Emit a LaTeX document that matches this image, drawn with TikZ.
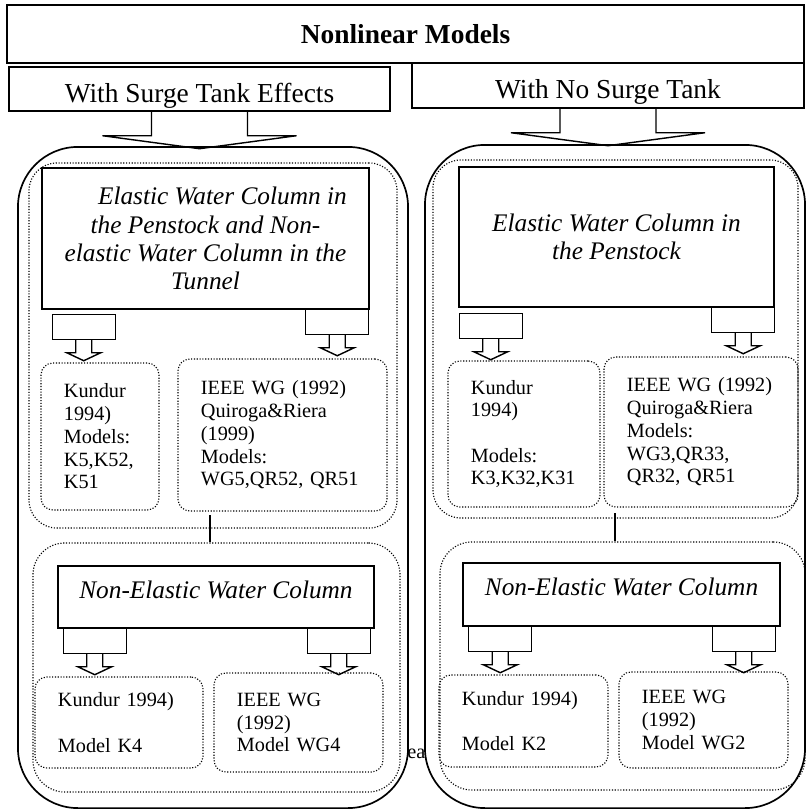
\documentclass[tikz,border=0pt]{standalone}
\usepackage{fontspec}
\setmainfont{Liberation Serif}
\usetikzlibrary{positioning,calc}

\begin{document}
\begin{tikzpicture}[
x=0.025cm, y=-0.025cm,
titlebox/.style={
rectangle,
draw,
line width=1pt,
inner sep=0pt,
minimum width=19.925cm,
minimum height=1.45cm,
font=\fontsize{19.5}{23}\selectfont\bfseries
},
branchbox/.style={
rectangle,
draw,
line width=1pt,
inner sep=0pt,
text height=22pt,
text depth=3.5pt,
font=\fontsize{19.5}{23}\selectfont
},
columnbox/.style={
rectangle,
draw,
line width=1pt,
inner sep=0pt,
align=center,
font=\fontsize{18}{20}\selectfont\itshape
},
outerbox/.style={
rectangle,
draw,
rounded corners=1.5cm,
line width=1.2pt,
inner sep=0pt
},
groupbox/.style={
rectangle,
draw,
dash pattern=on 0.8pt off 1.2pt,
rounded corners=0.7cm,
line width=0.8pt,
inner sep=0pt
},
modelbox/.style={
rectangle,
draw,
dash pattern=on 0.8pt off 1.2pt,
rounded corners=0.3cm,
line width=0.8pt,
inner xsep=0.575cm,
inner ysep=0pt,
align=left,
font=\fontsize{14.4}{16.2}\selectfont
},
link/.style={line width=0.9pt},
bigcall/.pic={
\draw[line width=1pt] (-48,0) -- (-48,24) -- (-97,24) -- (0,37) -- (97,24) -- (48,24) -- (48,0);
},
smallcall/.pic={
\draw[line width=1pt] (-31.5,0) rectangle (31.5,25);
\draw[line width=1pt] (-8,25) -- (-8,38) -- (-17,38) -- (0,46) -- (17,38) -- (8,38) -- (8,25);
}
]
\useasboundingbox (0,0) rectangle (807,810);

% header and the two branches
\node[titlebox] (title) at (405.5,34) {Nonlinear Models};
\node[branchbox, minimum width=9.525cm, minimum height=1.1cm] (surge) at (199.5,89) {With Surge Tank Effects};
\node[branchbox, minimum width=9.8cm, minimum height=1.125cm] (nosurge) at (608,85.5) {With No Surge Tank};
\pic at (surge.south) {bigcall};
\pic at (nosurge.south) {bigcall};

\node[outerbox, minimum width=9.75cm, minimum height=16.525cm] (sideL) at (213,477.5) {};
\node[outerbox, minimum width=9.5cm, minimum height=16.575cm] (sideR) at (615,476.5) {};

\node[groupbox, minimum width=9.2cm, minimum height=9.125cm] (upperL) at (213,345.5) {};
\node[groupbox, minimum width=9.125cm, minimum height=8.95cm] (upperR) at (615.5,339) {};
\node[groupbox, rounded corners=0.8cm, minimum width=9.175cm, minimum height=6.225cm] (lowerL) at (216.5,667.5) {};
\node[groupbox, rounded corners=0.8cm, minimum width=9.125cm, minimum height=6.2cm] (lowerR) at (622.5,666) {};

% elastic columns
\node[columnbox, minimum width=8.175cm, minimum height=3.525cm] (elasL) at (205.5,238.5) {\hspace*{24pt}Elastic Water Column in\\ the Penstock and Non-\\ elastic Water Column in the\\ Tunnel};
\node[columnbox, minimum width=7.875cm, minimum height=3.5cm] (elasR) at (616.5,237) {Elastic Water Column in\\ the Penstock};

\node[modelbox, text width=1.8cm, minimum width=2.95cm, minimum height=3.675cm] (kundurL) at (100,436.5) {Kundur\\1994)\\Models:\\K5,K52,\\K51};
\node[modelbox, text width=4.075cm, minimum width=5.225cm, minimum height=3.8cm] (ieeeL) at (282.5,435) {IEEE WG (1992)\\Quiroga\&Riera\\(1999)\\Models:\\WG5,QR52, QR51};
\node[modelbox, text width=2.65cm, minimum width=3.8cm, minimum height=3.65cm] (kundurR) at (524,434) {Kundur\\1994)\\[16pt]Models:\\K3,K32,K31};
\node[modelbox, text width=3.7cm, minimum width=4.85cm, minimum height=3.75cm] (ieeeR) at (701,432) {IEEE WG (1992)\\Quiroga\&Riera\\Models:\\WG3,QR33,\\QR32, QR51};

\pic at ($(elasL.south west)+(42.5,5)$) {smallcall};
\pic at ($(elasL.south east)+(-32.5,0)$) {smallcall};
\pic at ($(elasR.south west)+(32.5,6)$) {smallcall};
\pic at ($(elasR.south east)+(-31.5,0)$) {smallcall};

% non-elastic columns
\node[columnbox, text height=13pt, text depth=11.5pt, minimum width=7.9cm, minimum height=1.55cm] (nonelL) at (216,597) {Non-Elastic Water Column};
\node[columnbox, text height=13pt, text depth=11.5pt, minimum width=7.925cm, minimum height=1.575cm] (nonelR) at (621.5,594.5) {Non-Elastic Water Column};

\node[modelbox, text width=3.05cm, minimum width=4.2cm, minimum height=2.275cm] (kundur4) at (119,722.5) {Kundur 1994)\\[16pt]Model K4};
\node[modelbox, text width=3.075cm, minimum width=4.225cm, minimum height=2.475cm] (ieee4) at (298.5,722.5) {IEEE WG\\(1992)\\Model WG4};
\node[modelbox, text width=3.075cm, minimum width=4.225cm, minimum height=2.3cm] (kundur2) at (523.5,721) {Kundur 1994)\\[16pt]Model K2};
\node[modelbox, text width=3.075cm, minimum width=4.225cm, minimum height=2.4cm] (ieee2) at (703.5,720) {IEEE WG\\(1992)\\Model WG2};

\pic at ($(nonelL.south west)+(37.5,0)$) {smallcall};
\pic at ($(nonelL.south east)+(-36,0)$) {smallcall};
\pic at ($(nonelR.south west)+(38,0)$) {smallcall};
\pic at ($(nonelR.south east)+(-37,0)$) {smallcall};

\coordinate (linkL) at (210,515);
\coordinate (linkR) at (615,513);
\draw[link] (linkL) -- (linkL |- lowerL.north);
\draw[link] (linkR) -- (linkR |- lowerR.north);

\node[font=\fontsize{14.4}{16}\selectfont, anchor=base west, inner sep=0pt] (ea) at (407,758) {ea};

\end{tikzpicture}
\end{document}
